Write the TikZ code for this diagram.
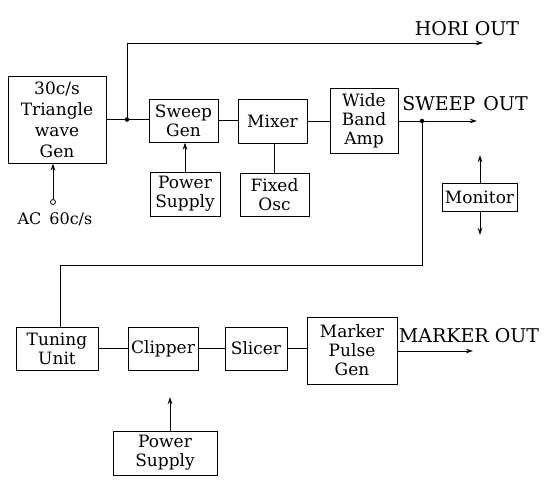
\documentclass[tikz,border=0pt]{standalone}
\usepackage{fontspec}
\setmainfont{DejaVu Serif}
\usetikzlibrary{arrows.meta}
\begin{document}
\begin{tikzpicture}[x=1pt,y=-1pt,
  blk/.style={draw,line width=1pt,inner sep=0pt,align=center,font=\fontsize{17}{19}\selectfont},
  lbl/.style={inner sep=0pt,font=\fontsize{19}{22}\selectfont},
  wire/.style={line width=1pt},
  arr/.style={line width=1pt,-{Stealth[length=7pt,width=4.5pt]}},
  jdot/.style={circle,fill,inner sep=0pt,minimum size=4.5pt}]
\useasboundingbox (0,0) rectangle (551,482);
% blocks
\node[blk,minimum width=98pt,minimum height=87pt,font=\fontsize{17}{21}\selectfont] (tri) at (57,119.5) {30c/s\\Triangle\\wave\\Gen};
\node[blk,minimum width=69pt,minimum height=43pt] (sg) at (183.5,120.5) {Sweep\\Gen};
\node[blk,minimum width=69pt,minimum height=44pt] (mix) at (272.5,121) {Mixer};
\node[blk,minimum width=70pt,minimum height=44pt] (ps1) at (185,194) {Power\\Supply};
\node[blk,minimum width=69pt,minimum height=43pt] (fo) at (274.5,194.5) {Fixed\\Osc};
\node[blk,minimum width=68pt,minimum height=65pt] (wba) at (364,120.5) {Wide\\Band\\Amp};
\node[blk,minimum width=75pt,minimum height=28pt] (mon) at (479.5,197) {Monitor};
\node[blk,minimum width=82pt,minimum height=43pt] (tu) at (57,348.5) {Tuning\\Unit};
\node[blk,minimum width=70pt,minimum height=43pt] (clp) at (163,348.5) {Clipper};
\node[blk,minimum width=62pt,minimum height=43pt] (sl) at (256,348.5) {Slicer};
\node[blk,minimum width=90pt,minimum height=67pt] (mpg) at (352,350.5) {Marker\\Pulse\\Gen};
\node[blk,minimum width=104pt,minimum height=44pt] (ps2) at (165,453) {Power\\Supply};
% labels
\node[lbl] (hori) at (467,29) {HORI OUT};
\node[lbl] (swo) at (465,104) {SWEEP\hspace{8pt}OUT};
\node[lbl] (mko) at (469,336) {MARKER OUT};
\node[inner sep=0pt,font=\fontsize{16}{18}\selectfont] (acl) at (55,219) {AC\hspace{8pt}60c/s};
% coordinates
\coordinate (horiend) at (483,43);
\coordinate (swend) at (477,121);
\coordinate (mkend) at (473,351);
\coordinate (c1) at (60,265);
\coordinate (monup) at (480,155);
\coordinate (mondn) at (480,235);
\coordinate (pc) at (170,397);
\node[circle,draw,line width=0.8pt,inner sep=0pt,minimum size=5pt] (ac) at (53,202) {};
\node[jdot] (j1) at (127,119.5) {};
\node[jdot] (j2) at (422,121) {};
% wires
\draw[wire] (tri.east) -- (sg.west |- tri.east);
\draw[arr] (j1.center) |- (horiend);
\draw[wire] (sg.east) -- (mix.west |- sg.east);
\draw[wire] (mix.east) -- (wba.west |- mix.east);
\draw[arr] (ps1.north) -- (ps1.north |- sg.south);
\draw[wire] (fo.north) -- (fo.north |- mix.south);
\draw[arr] (ac.north) -- (ac.north |- tri.south);
\draw[arr] (wba.east |- swend) -- (swend);
\draw[wire] (j2.center) -- (j2 |- c1) -- (c1) -- (c1 |- tu.north);
\draw[arr] (mon.north -| monup) -- (monup);
\draw[arr] (mon.south -| mondn) -- (mondn);
\draw[wire] (tu.east) -- (clp.west |- tu.east);
\draw[wire] (clp.east) -- (sl.west |- clp.east);
\draw[wire] (sl.east) -- (mpg.west |- sl.east);
\draw[arr] (mpg.east |- mkend) -- (mkend);
\draw[arr] (pc |- ps2.north) -- (pc);
\end{tikzpicture}
\end{document}
